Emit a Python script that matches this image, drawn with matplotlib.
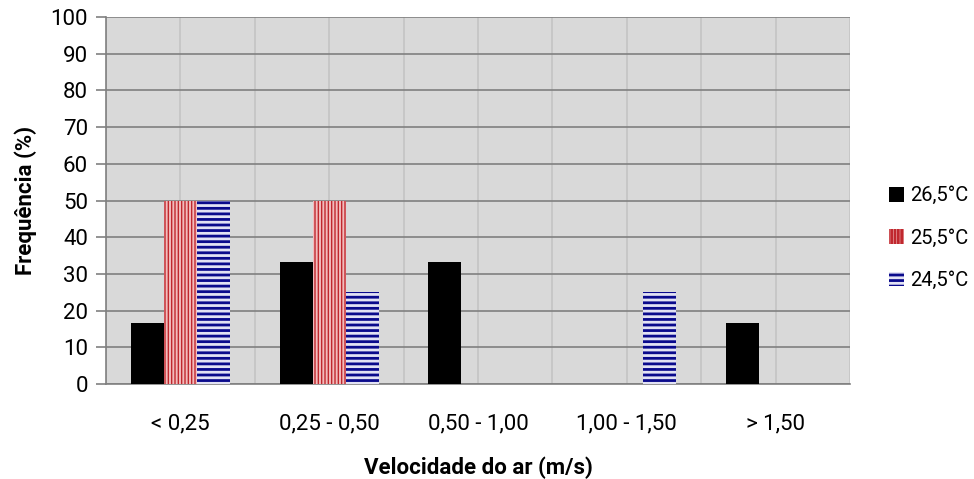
import numpy as np
import matplotlib
matplotlib.use("Agg")
import matplotlib.pyplot as plt

# Frequência das velocidades do ar por temperatura
categorias = ["< 0,25", "0,25 - 0,50", "0,50 - 1,00", "1,00 - 1,50", "> 1,50"]
series = ["26,5°C", "25,5°C", "24,5°C"]
freq_265 = [16.67, 33.33, 33.33, 0, 16.67]
freq_255 = [50, 50, 0, 0, 0]
freq_245 = [50, 25, 0, 25, 0]
y_ticks = list(range(0, 101, 10))

plt.rcParams['font.family'] = ['Roboto', 'DejaVu Sans']

fig = plt.figure(figsize=(9.74, 4.79), dpi=100)
ax = fig.add_axes([0.1088, 0.1983, 0.7639, 0.7662])
ax.set_facecolor('#d9d9d9')

x = np.arange(len(categorias))
w = 0.222
ax.bar(x - w, freq_265, w, color='black', linewidth=0, label=series[0], zorder=3)
plt.rcParams['hatch.linewidth'] = 1.0
ax.bar(x, freq_255, w, facecolor='#f2bcbc', edgecolor='#c0282e', hatch='|||||',
       linewidth=0, label=series[1], zorder=3)
plt.rcParams['hatch.linewidth'] = 2.0
ax.bar(x + w, freq_245, w, facecolor='#e2e2f4', edgecolor='#0a0a8c', hatch='---',
       linewidth=0, label=series[2], zorder=3)

ax.set_xlim(-0.5, len(categorias) - 0.5)
ax.set_ylim(0, 100)
ax.set_yticks(y_ticks)
ax.set_xticks(x)
ax.set_xticklabels(categorias)
ax.set_xticks(np.arange(-0.5, len(categorias), 0.5), minor=True)

# linhas de grade: horizontais escuras, verticais claras
ax.grid(axis='y', color='#808080', linewidth=1.2, zorder=1)
ax.grid(axis='x', which='minor', color='#c4c4c4', linewidth=1.2, zorder=1)
ax.grid(axis='x', which='major', color='#c4c4c4', linewidth=1.2, zorder=1)
ax.set_axisbelow(True)

for s in ['top', 'right']:
    ax.spines[s].set_visible(False)
ax.spines['left'].set_color('#808080')
ax.spines['bottom'].set_color('#808080')
ax.spines['left'].set_linewidth(1.2)
ax.spines['bottom'].set_linewidth(1.2)

ax.tick_params(axis='y', length=7, color='#808080', width=1.2, labelsize=16, pad=6)
ax.tick_params(axis='x', which='both', length=0, labelsize=16, pad=21)

ax.set_ylabel('Frequência (%)', fontsize=16, fontweight='bold', labelpad=10)
ax.set_xlabel('Velocidade do ar (m/s)', fontsize=16, fontweight='bold', labelpad=16)

fig.legend(loc='center left', bbox_to_anchor=(0.913, 0.503), frameon=False,
           borderaxespad=0, borderpad=0,
           fontsize=14.5, handlelength=0.72, handleheight=0.72, handletextpad=0.3,
           labelspacing=1.15)

fig.savefig('out.png', dpi=100)
